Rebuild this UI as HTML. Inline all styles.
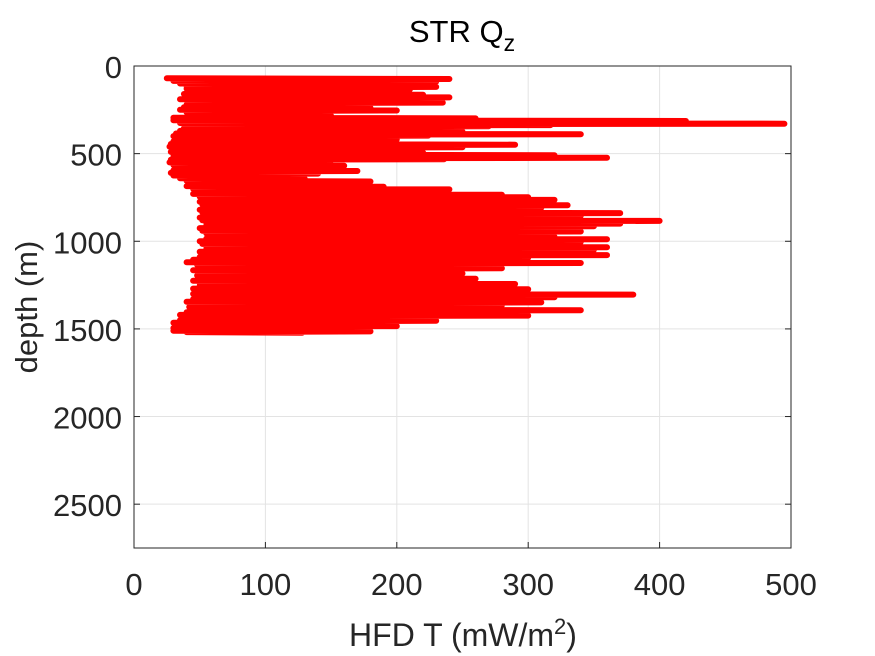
<!DOCTYPE html>
<html><head><meta charset="utf-8"><style>
body{margin:0;background:#fff;}
svg{display:block;font-family:"Liberation Sans",sans-serif;}
</style></head><body>
<svg id="chart" width="875" height="656" viewBox="0 0 875 656" xmlns="http://www.w3.org/2000/svg">
<rect width="875" height="656" fill="#fff"/>
<g id="grid"></g>
<g id="series"></g>
<rect x="134" y="66" width="657" height="482" fill="none" stroke="#262626" stroke-width="1"/>
<g id="ticks"></g>
<text x="462" y="42" text-anchor="middle" font-size="31" fill="#000">STR Q<tspan font-size="23" dy="9">z</tspan></text>
<text x="463" y="646" text-anchor="middle" font-size="32" fill="#262626">HFD T (mW/m<tspan font-size="22" dy="-12">2</tspan><tspan dy="12">)</tspan></text>
<text transform="translate(37,307) rotate(-90)" text-anchor="middle" font-size="31" fill="#262626">depth (m)</text>
</svg>
<script>
const xTicks=[0,100,200,300,400,500];
const yTicks=[0,500,1000,1500,2000,2500];
const hiDepth=[70,85,100,115,130,145,160,175,190,205,220,235,250,265,280,295,310,325,340,355,370,385,400,415,430,445,460,475,490,505,520,535,550,565,580,595,610,625,640,655,670,685,700,715,730,745,760,775,790,805,820,835,850,865,880,895,910,925,940,955,970,985,1000,1015,1030,1045,1060,1075,1090,1105,1120,1135,1150,1165,1180,1195,1210,1225,1240,1255,1270,1285,1300,1315,1330,1345,1360,1375,1390,1405,1420,1435,1450,1465,1480,1495,1510];
const hiVal=[240,230,170,230,210,180,220,240,200,235,150,180,200,120,150,260,420,495,270,200,250,340,150,200,180,290,250,190,220,320,360,150,120,160,110,170,140,100,130,180,120,190,240,160,280,300,320,280,330,310,290,370,340,330,400,370,350,300,340,280,320,360,340,300,360,350,250,360,300,230,340,250,280,220,250,170,260,230,290,220,300,280,380,320,250,310,280,230,340,270,300,220,230,150,200,120,180];
const loVal=[25,30,35,40,40,45,38,40,35,42,40,38,35,40,42,30,30,35,40,38,35,32,30,35,30,28,27,30,28,30,30,28,27,30,32,30,28,30,35,40,45,40,45,50,45,50,55,50,52,55,50,52,55,50,52,55,55,50,52,55,58,55,50,52,55,55,50,52,50,45,40,48,50,45,50,48,50,45,50,50,45,48,45,50,45,40,45,42,45,40,35,38,35,30,32,30,30];
const X=v=>134+v*657/500, Y=d=>66+d*482/2750;
const ns="http://www.w3.org/2000/svg";
const grid=document.getElementById('grid'), ticks=document.getElementById('ticks'), series=document.getElementById('series');
function mk(tag,at,parent){const e=document.createElementNS(ns,tag);for(const k in at)e.setAttribute(k,at[k]);parent.appendChild(e);return e;}
xTicks.forEach(t=>{
  const gl=mk('line',{x1:X(t),x2:X(t),y1:66,y2:548,stroke:'#e3e3e3','stroke-width':1},grid);
  
  
  const tk=mk('line',{x1:X(t),x2:X(t),y1:548,y2:542,stroke:'#262626'},ticks);
  
  
  const tx=mk('text',{x:X(t),y:595,'text-anchor':'middle','font-size':31,fill:'#262626'},ticks);
  tx.textContent=t;
  
  
});
yTicks.forEach(t=>{
  const gl=mk('line',{x1:134,x2:791,y1:Y(t),y2:Y(t),stroke:'#e3e3e3','stroke-width':1},grid);
  
  
  const tk=mk('line',{x1:134,x2:140,y1:Y(t),y2:Y(t),stroke:'#262626'},ticks);
  
  
  const tk2=mk('line',{x1:785,x2:791,y1:Y(t),y2:Y(t),stroke:'#262626'},ticks);
  
  
  const tx=mk('text',{x:122,y:Y(t)+12,'text-anchor':'end','font-size':31,fill:'#262626'},ticks);
  tx.textContent=t;
  
  
});
let pts=[];
hiDepth.forEach((d,i)=>{
  pts.push(X(loVal[i]).toFixed(1)+','+Y(d).toFixed(1));
  pts.push(X(hiVal[i]).toFixed(1)+','+Y(d+4).toFixed(1));
  pts.push(X(loVal[i]+10).toFixed(1)+','+Y(d+8).toFixed(1));
  pts.push(X(hiVal[i]*0.6+20).toFixed(1)+','+Y(d+12).toFixed(1));
});
const pl=mk('polyline',{points:pts.join(' '),fill:'none',stroke:'#ff0000','stroke-width':6,'stroke-linejoin':'round','stroke-linecap':'round'},series);


</script>
</body></html>
